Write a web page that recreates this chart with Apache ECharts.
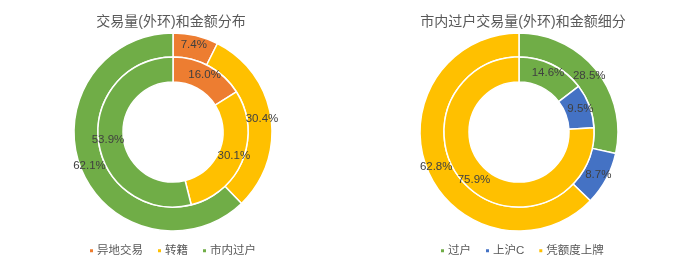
<!DOCTYPE html>
<html><head><meta charset="utf-8">
<script src="https://cdn.jsdelivr.net/npm/echarts@6/dist/echarts.min.js"></script>
<style>html,body{margin:0;padding:0;background:#fff}#c{width:700px;height:263px}</style>
</head><body><div id="c"></div>
<script>
const leftTitle = '交易量(外环)和金额分布';
const rightTitle = '市内过户交易量(外环)和金额细分';
const leftCats = ['异地交易', '转籍', '市内过户'];
const leftOuter = [7.4, 30.4, 62.1];
const leftInner = [16.0, 30.1, 53.9];
const rightCats = ['过户', '上沪C', '凭额度上牌'];
const rightOuter = [28.5, 8.7, 62.8];
const rightInner = [14.6, 9.5, 75.9];
const leftColors = ['#ED7D31', '#FFC000', '#70AD47'];
const rightColors = ['#70AD47', '#4472C4', '#FFC000'];

const FONT = '"Liberation Sans", "Noto Sans CJK SC", sans-serif';
function mk(cats, vals, colors) {
  return cats.map((n, i) => ({ name: n, value: vals[i], itemStyle: { color: colors[i] } }));
}
function ring(cats, vals, colors, center, radius) {
  return {
    type: 'pie', center: center, radius: radius, startAngle: 90, clockwise: true,
    avoidLabelOverlap: false, silent: true,
    itemStyle: { borderColor: '#fff', borderWidth: 1.5 },
    label: { show: true, position: 'inside', color: '#404040', fontSize: 11.5, fontFamily: FONT,
      formatter: p => p.value.toFixed(1) + '%' },
    labelLine: { show: false },
    data: mk(cats, vals, colors)
  };
}
const chart = echarts.init(document.getElementById('c'), null, { renderer: 'canvas' });
const legendCommon = {
  top: 240, itemWidth: 5, itemHeight: 5, itemGap: 13, icon: 'rect',
  textStyle: { color: '#595959', fontSize: 11.5, fontFamily: FONT, padding: [0, 0, 0, -2] }
};
chart.setOption({
  animation: false,
  title: [
    { text: leftTitle, left: 166, top: 10, textAlign: 'center',
      textStyle: { color: '#595959', fontSize: 14, fontWeight: 'normal', fontFamily: FONT } },
    { text: rightTitle, left: 518, top: 10, textAlign: 'center',
      textStyle: { color: '#595959', fontSize: 14, fontWeight: 'normal', fontFamily: FONT } }
  ],
  legend: [
    Object.assign({ data: leftCats, left: 83 }, legendCommon),
    Object.assign({ data: rightCats, left: 434 }, legendCommon)
  ],
  series: [
    ring(leftCats, leftOuter, leftColors, [173, 132], [75, 99]),
    ring(leftCats, leftInner, leftColors, [173, 132], [50, 75]),
    ring(rightCats, rightOuter, rightColors, [519, 132], [75, 99]),
    ring(rightCats, rightInner, rightColors, [519, 132], [50, 75])
  ]
});
</script></body></html>
